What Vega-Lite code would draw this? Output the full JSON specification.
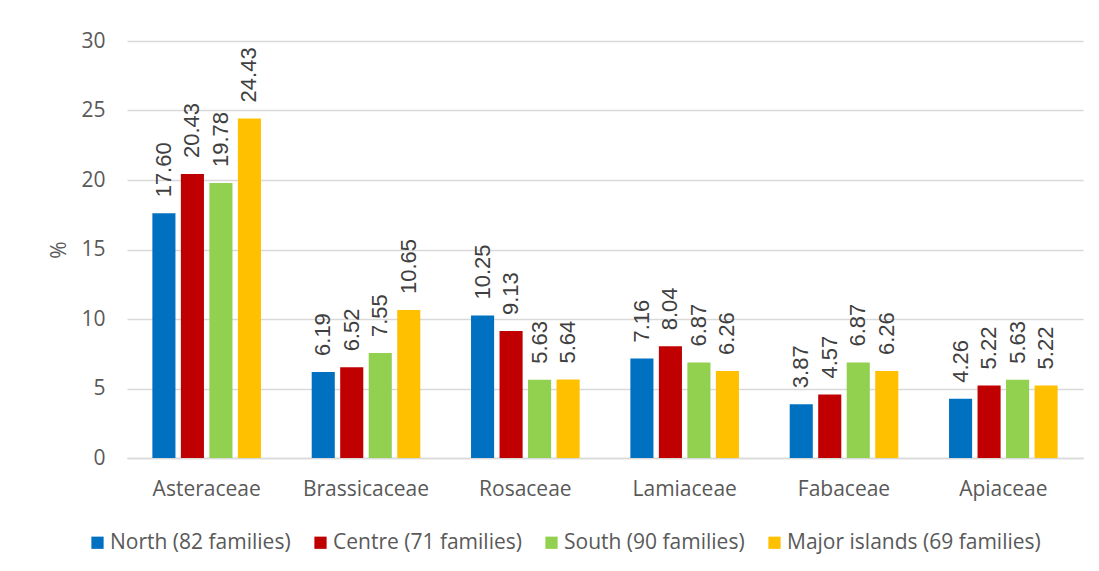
{
  "$schema": "https://vega.github.io/schema/vega-lite/v6.json",
  "width": 956,
  "height": 417,
  "autosize": {"type": "none"},
  "padding": {"left": 127, "top": 41, "right": 16, "bottom": 113},
  "background": "white",
  "data": {
    "values": [
      {"family": "Asteraceae", "region": "North (82 families)", "pct": 17.60},
      {"family": "Asteraceae", "region": "Centre (71 families)", "pct": 20.43},
      {"family": "Asteraceae", "region": "South (90 families)", "pct": 19.78},
      {"family": "Asteraceae", "region": "Major islands (69 families)", "pct": 24.43},
      {"family": "Brassicaceae", "region": "North (82 families)", "pct": 6.19},
      {"family": "Brassicaceae", "region": "Centre (71 families)", "pct": 6.52},
      {"family": "Brassicaceae", "region": "South (90 families)", "pct": 7.55},
      {"family": "Brassicaceae", "region": "Major islands (69 families)", "pct": 10.65},
      {"family": "Rosaceae", "region": "North (82 families)", "pct": 10.25},
      {"family": "Rosaceae", "region": "Centre (71 families)", "pct": 9.13},
      {"family": "Rosaceae", "region": "South (90 families)", "pct": 5.63},
      {"family": "Rosaceae", "region": "Major islands (69 families)", "pct": 5.64},
      {"family": "Lamiaceae", "region": "North (82 families)", "pct": 7.16},
      {"family": "Lamiaceae", "region": "Centre (71 families)", "pct": 8.04},
      {"family": "Lamiaceae", "region": "South (90 families)", "pct": 6.87},
      {"family": "Lamiaceae", "region": "Major islands (69 families)", "pct": 6.26},
      {"family": "Fabaceae", "region": "North (82 families)", "pct": 3.87},
      {"family": "Fabaceae", "region": "Centre (71 families)", "pct": 4.57},
      {"family": "Fabaceae", "region": "South (90 families)", "pct": 6.87},
      {"family": "Fabaceae", "region": "Major islands (69 families)", "pct": 6.26},
      {"family": "Apiaceae", "region": "North (82 families)", "pct": 4.26},
      {"family": "Apiaceae", "region": "Centre (71 families)", "pct": 5.22},
      {"family": "Apiaceae", "region": "South (90 families)", "pct": 5.63},
      {"family": "Apiaceae", "region": "Major islands (69 families)", "pct": 5.22}
    ]
  },
  "encoding": {
    "x": {
      "field": "family",
      "type": "nominal",
      "sort": null,
      "scale": {"paddingInner": 0, "paddingOuter": 0},
      "axis": {
        "title": null,
        "labelAngle": 0,
        "labelFont": "Open Sans",
        "labelFontSize": 21,
        "labelColor": "#595959",
        "labelPadding": 20,
        "ticks": false,
        "domainColor": "#d9d9d9",
        "domainWidth": 1.5,
        "grid": false
      }
    },
    "xOffset": {
      "field": "region",
      "type": "nominal",
      "sort": null,
      "scale": {"paddingInner": 0.19, "paddingOuter": 0.89}
    },
    "y": {
      "field": "pct",
      "type": "quantitative",
      "scale": {"domain": [0, 30], "nice": false},
      "axis": {
        "title": "%",
        "titleFont": "Open Sans",
        "titleFontSize": 21,
        "titleFontWeight": "normal",
        "titleColor": "#595959",
        "titlePadding": 11,
        "values": [0, 5, 10, 15, 20, 25, 30],
        "labelFont": "Open Sans",
        "labelFontSize": 21,
        "labelColor": "#595959",
        "labelPadding": 22,
        "ticks": false,
        "domain": false,
        "grid": true,
        "gridColor": "#d9d9d9",
        "gridWidth": 1.4
      }
    }
  },
  "layer": [
    {
      "mark": {"type": "bar"},
      "encoding": {
        "color": {
          "field": "region",
          "type": "nominal",
          "sort": null,
          "scale": {
            "domain": ["North (82 families)", "Centre (71 families)", "South (90 families)", "Major islands (69 families)"],
            "range": ["#0070C0", "#C00000", "#92D050", "#FFC000"]
          },
          "legend": {
            "title": null,
            "orient": "none",
            "direction": "horizontal",
            "legendX": -40,
            "legendY": 491,
            "symbolType": "square",
            "symbolSize": 150,
            "symbolStrokeWidth": 0,
            "labelFont": "Open Sans",
            "labelFontSize": 21,
            "labelColor": "#595959",
            "labelOffset": 2,
            "columnPadding": 19,
            "labelLimit": 400
          }
        }
      }
    },
    {
      "mark": {
        "type": "text",
        "angle": 270,
        "align": "left",
        "baseline": "middle",
        "dx": 16,
        "font": "Liberation Sans",
        "fontSize": 22,
        "color": "#404040"
      },
      "encoding": {
        "text": {"field": "pct", "type": "quantitative", "format": ".2f"}
      }
    }
  ],
  "config": {
    "view": {"stroke": null}
  }
}
